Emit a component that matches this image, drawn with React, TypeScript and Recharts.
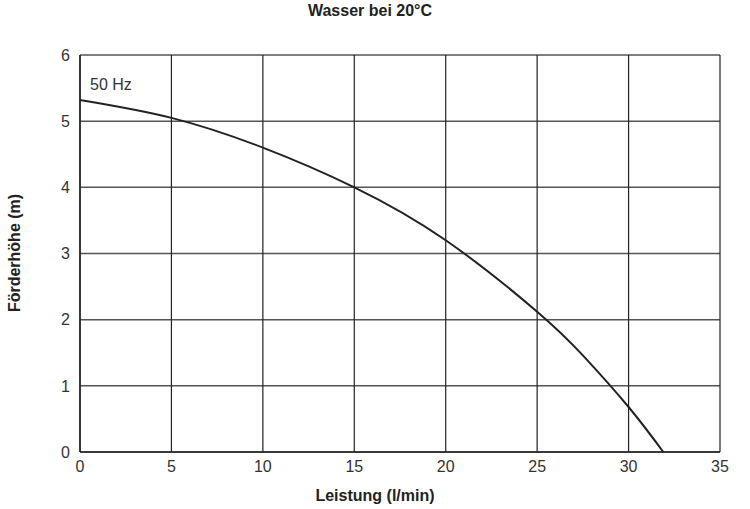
import { LineChart, Line, XAxis, YAxis, CartesianGrid, ReferenceDot } from 'recharts';

// Förderkennlinie, 50 Hz, Wasser bei 20°C
const flow = [0, 5, 10, 15, 20, 25, 27.5, 30, 31.9];
const head = [5.32, 5.05, 4.6, 4.0, 3.2, 2.12, 1.46, 0.68, 0];
const xTicks = [0, 5, 10, 15, 20, 25, 30, 35];
const yTicks = [0, 1, 2, 3, 4, 5, 6];

const data = flow.map((x, i) => ({ x, y: head[i] }));

const FONT = '"Liberation Sans", Arial, Helvetica, sans-serif';
const tickStyle = { fill: '#333', fontSize: 16, fontFamily: FONT };
const titleStyle = {
  position: 'absolute' as const,
  fontFamily: FONT,
  fontWeight: 'bold' as const,
  fontSize: 16,
  color: '#222',
  whiteSpace: 'nowrap' as const,
  lineHeight: '20px',
};

export default function App() {
  return (
    <div style={{ position: 'absolute', left: 0, top: 0, width: 750, height: 509, background: '#fff' }}>
      <LineChart width={750} height={509} data={data} margin={{ top: 55, right: 30, left: 20, bottom: 27 }}>
        <CartesianGrid vertical={false} stroke="#555" strokeWidth={1.5} />
        <CartesianGrid horizontal={false} stroke="#222" strokeWidth={1.2} />
        <XAxis
          dataKey="x"
          type="number"
          domain={[0, 35]}
          ticks={xTicks}
          tick={tickStyle}
          tickLine={false}
          axisLine={{ stroke: '#222', strokeWidth: 1.5 }}
          height={30}
          tickMargin={3}
        />
        <YAxis
          type="number"
          domain={[0, 6]}
          ticks={yTicks}
          tick={tickStyle}
          tickLine={false}
          axisLine={{ stroke: '#222', strokeWidth: 1.5 }}
          width={60}
          tickMargin={4}
        />
        <ReferenceDot
          x={0}
          y={5.55}
          r={0}
          fill="none"
          stroke="none"
          label={{ value: '50 Hz', position: 'right', offset: 10, fill: '#333', fontSize: 16, fontFamily: FONT }}
        />
        <Line
          type="natural"
          dataKey="y"
          stroke="#222"
          strokeWidth={2}
          dot={false}
          isAnimationActive={false}
        />
      </LineChart>
      <div style={{ ...titleStyle, top: 1, left: 0, width: 740, textAlign: 'center' }}>Wasser bei 20°C</div>
      <div style={{ ...titleStyle, top: 486, left: 0, width: 750, textAlign: 'center' }}>Leistung (l/min)</div>
      <div
        style={{
          ...titleStyle,
          left: 15,
          top: 253,
          width: 200,
          textAlign: 'center',
          transform: 'translate(-50%, -50%) rotate(-90deg)',
        }}
      >
        Förderhöhe (m)
      </div>
    </div>
  );
}
